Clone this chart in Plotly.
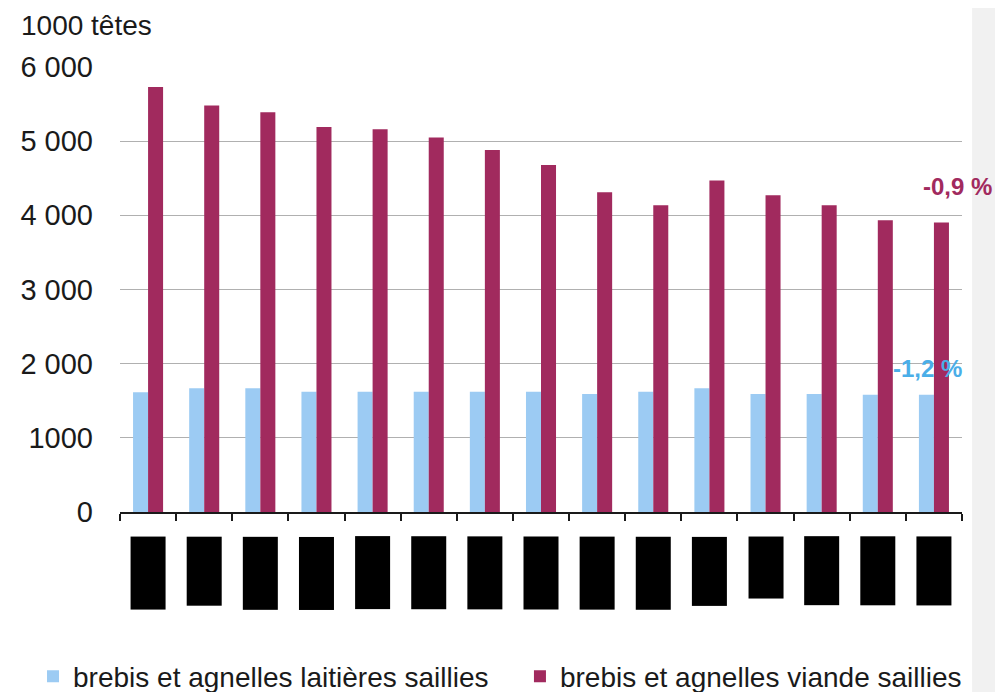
import plotly.graph_objects as go

years = ["2000", "2001", "2002", "2003", "2004", "2005", "2006", "2007",
         "2008", "2009", "2010", "2011", "2012", "2013", "2014"]
laitieres = [1615, 1670, 1670, 1620, 1620, 1620, 1620, 1620,
             1590, 1620, 1670, 1590, 1590, 1580, 1580]
viande = [5730, 5480, 5390, 5190, 5160, 5050, 4880, 4680,
          4310, 4135, 4470, 4270, 4135, 3935, 3905]
tick_vals = [0, 1000, 2000, 3000, 4000, 5000, 6000]
tick_text = ["0", "1000", "2 000", "3 000", "4 000", "5 000", "6 000"]
name_lait = "brebis et agnelles laitières saillies"
name_viande = "brebis et agnelles viande saillies"
label_lait = "-1,2 %"
label_viande = "-0,9 %"

BLUE = "#9ccbf3"
MAROON = "#a12a5e"
TXT = "#1a1a1a"
FONT = "Liberation Sans, Arial, sans-serif"

# visual sizes of the (blacked-out) year labels, in px
box_heights = [72, 68, 72, 72, 72, 72, 72, 72, 72, 72, 68, 61, 68, 68, 68]

fig = go.Figure()
fig.add_trace(go.Bar(x=years, y=laitieres, name=name_lait, marker_color=BLUE,
                     marker_line_width=0, legend="legend"))
fig.add_trace(go.Bar(x=years, y=viande, name=name_viande, marker_color=MAROON,
                     marker_line_width=0, legend="legend2"))

last = len(years) - 1
annotations = [
    dict(text="1000 têtes", xref="paper", yref="paper", x=-0.1425, y=1.0,
         xanchor="left", yanchor="bottom", xshift=19, yshift=24, showarrow=False,
         font=dict(size=28, color=TXT, family=FONT)),
    dict(text="<b>" + label_viande + "</b>", x=last, y=viande[-1], xref="x", yref="y",
         xanchor="center", yanchor="bottom", xshift=24, yshift=20, showarrow=False,
         font=dict(size=24, color=MAROON, family=FONT)),
    dict(text="<b>" + label_lait + "</b>", x=last, y=laitieres[-1], xref="x", yref="y",
         xanchor="center", yanchor="bottom", xshift=-6, yshift=11, showarrow=False,
         font=dict(size=24, color="#4aaee8", family=FONT)),
]
for i, (yr, h) in enumerate(zip(years, box_heights)):
    annotations.append(dict(
        text=yr, x=i, xref="x", yref="paper", y=0, yshift=-24,
        xanchor="center", yanchor="top", textangle=-90, showarrow=False,
        width=h, height=34, bgcolor="black", borderpad=0,
        font=dict(size=14, color="black", family=FONT)))

legend_common = dict(orientation="h", y=-0.37, xanchor="left", yanchor="middle",
                     font=dict(size=28, family=FONT, color=TXT),
                     itemsizing="constant", bgcolor="rgba(0,0,0,0)")

# page body adds an 8px offset; the figure is sized so the plot lands where the reference has it
fig.update_layout(
    width=995, height=684,
    margin=dict(l=112, r=41, t=59, b=180, autoexpand=False),
    paper_bgcolor="white", plot_bgcolor="white",
    barmode="group", bargap=0.465, bargroupgap=0,
    font=dict(family=FONT, color=TXT),
    showlegend=True,
    legend=dict(x=-0.1033, **legend_common),
    legend2=dict(x=0.475, **legend_common),
    annotations=annotations,
    shapes=[dict(type="rect", xref="paper", yref="paper", x0=1.012, x1=1.2, y0=-1, y1=2,
                 fillcolor="#f1f1f1", line_width=0, layer="below")],
)
fig.update_xaxes(type="category", range=[-0.5, len(years) - 0.5], autorange=False,
                 showticklabels=False, ticks="outside", tickson="boundaries",
                 ticklen=7, tickwidth=2, tickcolor=TXT, automargin=False,
                 showline=True, linecolor=TXT, linewidth=2, showgrid=False)
fig.update_yaxes(range=[0, 6000], tickvals=tick_vals, ticktext=tick_text, automargin=False,
                 showgrid=True, gridcolor="#b0b0b0", gridwidth=1, zeroline=False,
                 showline=False, ticks="", ticklabelstandoff=26,
                 tickfont=dict(size=29, family=FONT, color=TXT))

fig.write_html("out.html")
